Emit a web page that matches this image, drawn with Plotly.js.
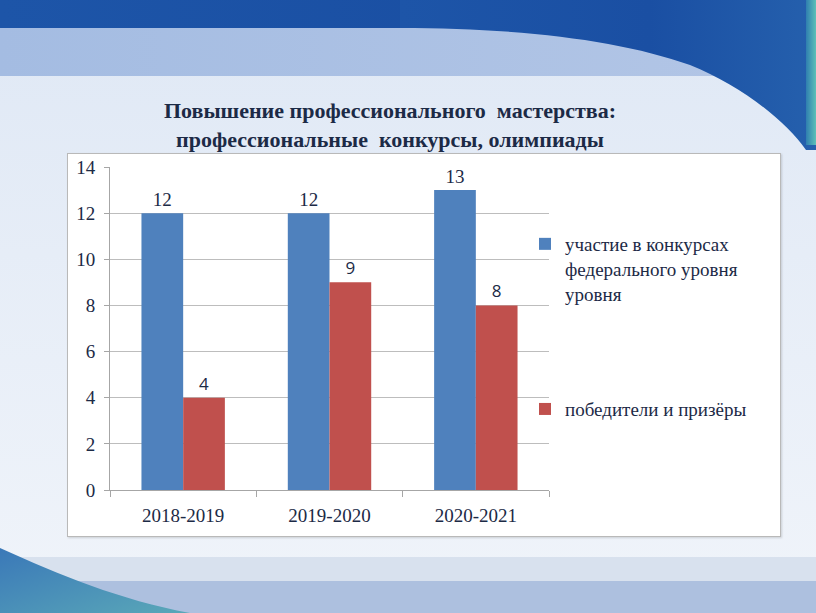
<!DOCTYPE html>
<html>
<head>
<meta charset="utf-8">
<script src="https://cdn.plot.ly/plotly-3.0.1.min.js"></script>
<style>
  html, body { margin: 0; padding: 0; width: 816px; height: 613px; overflow: hidden; }
  #bg { position: absolute; left: 0; top: 0; width: 816px; height: 613px; }
  #box { position: absolute; left: 67px; top: 153px; width: 712px; height: 382px;
         background: #ffffff; border: 1px solid #b9b9b9; box-shadow: 1px 1px 2px rgba(0,0,0,0.15); }
  #chart { position: absolute; left: 0; top: 0; width: 816px; height: 613px; }
</style>
</head>
<body>
<svg id="bg" width="816" height="613" xmlns="http://www.w3.org/2000/svg">
  <defs>
    <linearGradient id="main" x1="0" y1="0" x2="0" y2="1">
      <stop offset="0" stop-color="#dfe8f5"/>
      <stop offset="1" stop-color="#f0f4fa"/>
    </linearGradient>
    <linearGradient id="band" x1="0" y1="0" x2="1" y2="0">
      <stop offset="0" stop-color="#a4bce2"/>
      <stop offset="1" stop-color="#b3c6e6"/>
    </linearGradient>
    <linearGradient id="dark" x1="0" y1="0" x2="1" y2="0">
      <stop offset="0" stop-color="#1d55a8"/>
      <stop offset="0.6" stop-color="#1a4fa3"/>
      <stop offset="1" stop-color="#2560ad"/>
    </linearGradient>
    <linearGradient id="teal" x1="0" y1="0" x2="1" y2="0">
      <stop offset="0" stop-color="#2f7fb0"/>
      <stop offset="1" stop-color="#5fc0b8"/>
    </linearGradient>
    <linearGradient id="bl" x1="0" y1="0" x2="1" y2="1">
      <stop offset="0" stop-color="#3a78b8"/>
      <stop offset="1" stop-color="#5aa8b8"/>
    </linearGradient>
  </defs>
  <rect x="0" y="0" width="816" height="613" fill="url(#main)"/>
  <rect x="0" y="28" width="816" height="48" fill="url(#band)"/>
  <rect x="0" y="0" width="816" height="28" fill="url(#dark)"/>
  <path d="M 400 28 C 520 28 620 40 690 65 C 740 85 785 120 806 150 L 816 150 L 816 0 L 400 0 Z" fill="url(#dark)"/>
  <rect x="806" y="0" width="10" height="145" fill="url(#teal)"/>
  <rect x="0" y="557" width="816" height="24" fill="#d8e1ee"/>
  <rect x="0" y="581" width="816" height="32" fill="#adc0df"/>
  <path d="M 0 548 C 60 575 120 600 190 613 L 0 613 Z" fill="url(#bl)"/>
</svg>
<div id="box"></div>
<div id="chart"></div>
<script>
  var categories = ['2018-2019', '2019-2020', '2020-2021'];
  var participation = [12, 12, 13];
  var winners = [4, 9, 8];
  var seriesNames = ['участие в конкурсах<br>федерального уровня<br>уровня', 'победители и призёры'];
  var titleText = '<b>Повышение профессионального  мастерства:</b><br><b>профессиональные  конкурсы, олимпиады</b>';
  var yTicks = [0, 2, 4, 6, 8, 10, 12, 14];

  var textColor = '#1c2a46';
  var serifFam = 'Liberation Serif';
  var sansFam = 'Open Sans';

  var traces = [
    {
      type: 'bar', x: categories, y: participation, name: seriesNames[0],
      marker: { color: '#4f81bd' },
      text: participation.map(String), textposition: 'outside',
      textfont: { family: serifFam, size: 19, color: textColor },
      cliponaxis: false, legendgroup: 'a', hoverinfo: 'skip'
    },
    {
      type: 'bar', x: categories, y: winners, name: seriesNames[1],
      marker: { color: '#c0504d' },
      text: winners.map(String), textposition: 'outside',
      textfont: { family: sansFam, size: 17, color: textColor },
      cliponaxis: false, legendgroup: 'b', hoverinfo: 'skip'
    }
  ];

  var layout = {
    width: 816, height: 613,
    margin: { l: 110, r: 267, t: 167, b: 123, autoexpand: false },
    paper_bgcolor: 'rgba(0,0,0,0)',
    plot_bgcolor: 'rgba(0,0,0,0)',
    barmode: 'group',
    bargap: 0.43,
    bargroupgap: 0,
    font: { family: serifFam, color: textColor },
    title: {
      text: titleText,
      x: 390 / 816, xanchor: 'center',
      y: 1 - 118 / 613, yanchor: 'middle',
      yref: 'container',
      font: { family: serifFam, size: 22, color: textColor }
    },
    xaxis: {
      type: 'category',
      showgrid: false,
      showline: true, linecolor: '#a6a6a6', linewidth: 1,
      ticks: 'outside', tickson: 'boundaries', ticklen: 6, tickcolor: '#a6a6a6',
      tickfont: { family: serifFam, size: 19, color: textColor },
      ticklabelstandoff: 8,
      automargin: false, fixedrange: true
    },
    yaxis: {
      range: [0, 14],
      tickvals: yTicks,
      showgrid: true, gridcolor: '#bdbdbd', gridwidth: 1,
      showline: true, linecolor: '#a6a6a6', linewidth: 1,
      ticks: 'outside', ticklen: 5, tickcolor: '#a6a6a6',
      tickfont: { family: serifFam, size: 19, color: textColor },
      ticklabelstandoff: 5,
      zeroline: false,
      automargin: false, fixedrange: true
    },
    showlegend: true,
    legend: {
      x: (525 - 110) / 439, xanchor: 'left',
      y: (490 - 225) / 323, yanchor: 'top',
      valign: 'top',
      bgcolor: 'rgba(0,0,0,0)',
      font: { family: serifFam, size: 19, color: textColor },
      tracegroupgap: 88,
      traceorder: 'grouped'
    }
  };

  Plotly.newPlot('chart', traces, layout, { displayModeBar: false, staticPlot: true });
</script>
</body>
</html>
